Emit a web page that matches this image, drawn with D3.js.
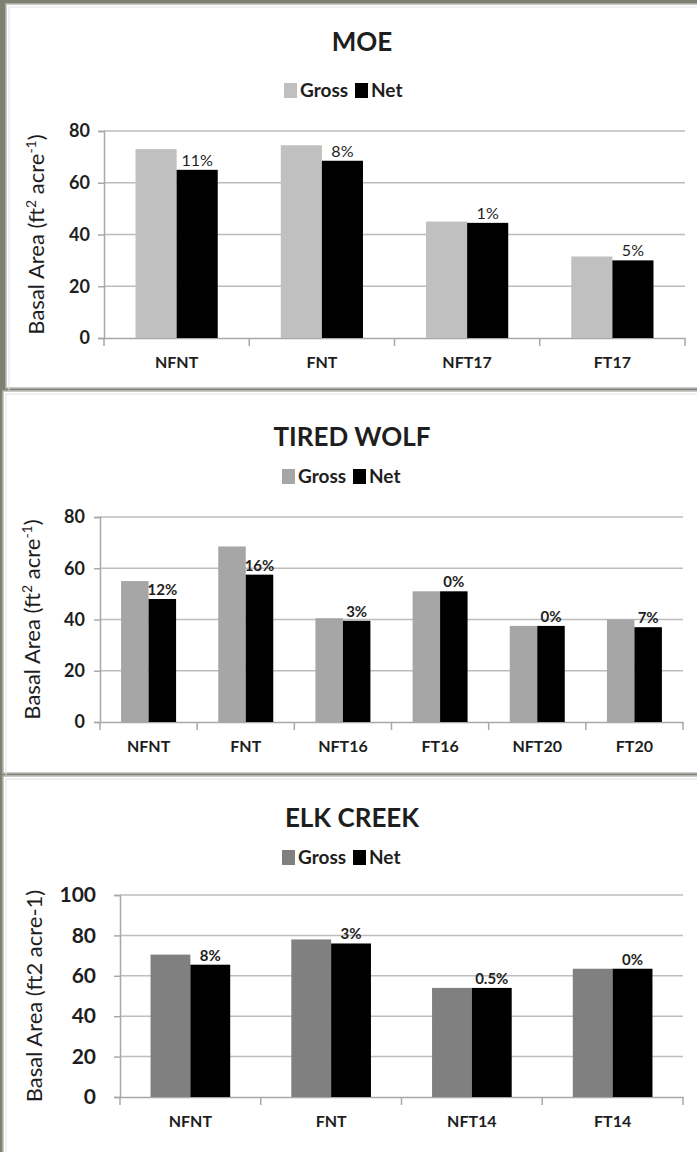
<!DOCTYPE html>
<html>
<head>
<meta charset="utf-8">
<script src="https://cdn.jsdelivr.net/npm/d3@7"></script>
<style>
  body { margin: 0; background: #7d8171; }
  svg { display: block; }
  text { font-family: Lato, "Open Sans", sans-serif; fill: #1e1e1e; }
</style>
</head>
<body>
<script>
const W = 697, H = 1152;

// MOE
const moeCategories = ["NFNT", "FNT", "NFT17", "FT17"];
const moeGross = [73, 74.5, 45, 31.5];
const moeNet = [65, 68.5, 44.5, 30];
const moeLabels = ["11%", "8%", "1%", "5%"];
const moeTicks = [0, 20, 40, 60, 80];

// Tired Wolf
const twCategories = ["NFNT", "FNT", "NFT16", "FT16", "NFT20", "FT20"];
const twGross = [55, 68.5, 40.5, 51, 37.5, 40];
const twNet = [48, 57.5, 39.5, 51, 37.5, 37];
const twLabels = ["12%", "16%", "3%", "0%", "0%", "7%"];
const twTicks = [0, 20, 40, 60, 80];

// Elk Creek
const ecCategories = ["NFNT", "FNT", "NFT14", "FT14"];
const ecGross = [70.5, 78, 54, 63.5];
const ecNet = [65.5, 76, 54, 63.5];
const ecLabels = ["8%", "3%", "0.5%", "0%"];
const ecTicks = [0, 20, 40, 60, 80, 100];

const seriesNames = ["Gross", "Net"];

let svg = d3.select("body")
    .append("svg")
    .attr("width", W)
    .attr("height", H);

svg.append("rect")
    .attr("width", W)
    .attr("height", H)
    .attr("fill", "#7d8171");

function drawPanel(o) {
    // panel background with double edge
    svg.append("rect")
        .attr("x", o.box[0]).attr("y", o.box[1])
        .attr("width", o.box[2]).attr("height", o.box[3])
        .attr("fill", "#fff")
        .attr("stroke", "#b8b8b8")
        .attr("stroke-width", 1.5);
    svg.append("rect")
        .attr("x", o.box[0] + 3).attr("y", o.box[1] + 3)
        .attr("width", o.box[2]).attr("height", o.box[3])
        .attr("fill", "none")
        .attr("stroke", "#e2e2e2")
        .attr("stroke-width", 1);

    let data = o.categories.map((c, i) => ({cat: c, vals: [o.gross[i], o.net[i]], label: o.labels[i]}));

    let x = d3.scaleBand()
        .domain(o.categories)
        .range([o.left, o.right])
        .paddingInner(0.434)
        .paddingOuter(0.217);

    let xs = d3.scaleBand()
        .domain(seriesNames)
        .range([0, x.bandwidth()]);

    let y = d3.scaleLinear()
        .domain([0, d3.max(o.ticks)])
        .range([o.bottom, o.top]);

    // grid
    svg.append("g")
        .selectAll("line")
        .data(o.ticks.slice(1))
        .enter()
        .append("line")
        .attr("x1", o.left).attr("x2", o.right)
        .attr("y1", d => y(d)).attr("y2", d => y(d))
        .attr("stroke", "#bdbdbd")
        .attr("stroke-width", 1.5);

    // y axis
    let gY = svg.append("g")
        .attr("transform", `translate(${o.left},0)`)
        .call(d3.axisLeft(y).tickValues(o.ticks).tickSize(6).tickPadding(o.tickPad));
    gY.select(".domain").attr("stroke", "#a8a8a8").attr("stroke-width", 1.5);
    gY.selectAll(".tick line").attr("stroke", "#a8a8a8").attr("stroke-width", 1.5);
    gY.selectAll(".tick text")
        .attr("font-size", o.tickSize)
        .attr("font-weight", "bold")
        .style("font-family", "Lato, sans-serif")
        .attr("fill", "#1e1e1e");

    // x axis
    let cell = (o.right - o.left) / o.categories.length;
    let gX = svg.append("g")
        .attr("transform", `translate(0,${o.bottom})`)
        .call(d3.axisBottom(x).tickSize(0).tickPadding(19));
    gX.select(".domain").attr("stroke", "#a8a8a8").attr("stroke-width", 1.5);
    gX.selectAll(".tick text")
        .attr("font-size", 16)
        .attr("font-weight", "bold")
        .style("font-family", "Lato, sans-serif")
        .attr("fill", "#1e1e1e");
    svg.append("g")
        .selectAll("line")
        .data(d3.range(o.categories.length + 1))
        .enter()
        .append("line")
        .attr("x1", i => o.left + i * cell).attr("x2", i => o.left + i * cell)
        .attr("y1", o.bottom).attr("y2", o.bottom + 8)
        .attr("stroke", "#a8a8a8")
        .attr("stroke-width", 1.5);

    // bars
    let groups = svg.append("g")
        .selectAll("g")
        .data(data)
        .enter()
        .append("g")
        .attr("transform", d => `translate(${x(d.cat)},0)`);

    groups.selectAll("rect")
        .data(d => d.vals.map((v, j) => ({s: seriesNames[j], v: v})))
        .enter()
        .append("rect")
        .attr("x", d => xs(d.s))
        .attr("y", d => y(d.v))
        .attr("width", xs.bandwidth())
        .attr("height", d => y(0) - y(d.v))
        .attr("fill", d => d.s === "Gross" ? o.grossColor : "#000");

    // percent labels over net bars
    groups.append("text")
        .attr("x", xs("Net") + xs.bandwidth() / 2)
        .attr("y", d => y(d.vals[1]) - 4)
        .attr("text-anchor", "middle")
        .attr("font-size", o.labelSize)
        .attr("font-weight", o.labelWeight)
        .text(d => d.label);

    // title
    svg.append("text")
        .attr("x", o.titleX)
        .attr("y", o.titleY)
        .attr("text-anchor", "middle")
        .attr("font-size", 26)
        .attr("font-weight", "bold")
        .text(o.title);

    // legend
    let lg = svg.append("g")
        .attr("transform", `translate(${o.legendX},${o.legendY})`);
    lg.append("rect").attr("x", 0).attr("y", -7).attr("width", 13).attr("height", 15).attr("fill", o.grossColor);
    lg.append("text").attr("x", 16).attr("y", 7).attr("font-size", 19).attr("font-weight", "bold").text("Gross");
    lg.append("rect").attr("x", 71).attr("y", -7).attr("width", 13).attr("height", 15).attr("fill", "#000");
    lg.append("text").attr("x", 87).attr("y", 7).attr("font-size", 19).attr("font-weight", "bold").text("Net");

    // y title
    let yt = svg.append("text")
        .attr("transform", `translate(${o.yTitleX},${(o.top + o.bottom) / 2}) rotate(-90)`)
        .attr("text-anchor", "middle")
        .attr("font-size", 22)
        .attr("fill", "#262626");
    if (o.superscript) {
        yt.append("tspan").text("Basal Area (ft");
        yt.append("tspan").attr("baseline-shift", "super").attr("font-size", 14).text("2");
        yt.append("tspan").text(" acre");
        yt.append("tspan").attr("baseline-shift", "super").attr("font-size", 14).text("-1");
        yt.append("tspan").text(")");
    } else {
        yt.text("Basal Area (ft2 acre-1)");
    }
}

drawPanel({
    box: [6, 4, 700, 384],
    title: "MOE", titleX: 362, titleY: 51,
    legendX: 284, legendY: 90,
    categories: moeCategories, gross: moeGross, net: moeNet, labels: moeLabels, ticks: moeTicks,
    left: 104, right: 685, top: 131, bottom: 338,
    grossColor: "#c0c0c0", tickSize: 18, tickPad: 8, labelSize: 16, labelWeight: "normal",
    yTitleX: 44, superscript: true
});

drawPanel({
    box: [3, 391, 700, 382],
    title: "TIRED WOLF", titleX: 352, titleY: 446,
    legendX: 282, legendY: 476,
    categories: twCategories, gross: twGross, net: twNet, labels: twLabels, ticks: twTicks,
    left: 100, right: 683, top: 517, bottom: 722,
    grossColor: "#a6a6a6", tickSize: 18, tickPad: 9, labelSize: 15, labelWeight: "bold",
    yTitleX: 40, superscript: true
});

drawPanel({
    box: [3, 776, 700, 382],
    title: "ELK CREEK", titleX: 352, titleY: 827,
    legendX: 282, legendY: 857,
    categories: ecCategories, gross: ecGross, net: ecNet, labels: ecLabels, ticks: ecTicks,
    left: 120, right: 683, top: 895, bottom: 1097,
    grossColor: "#808080", tickSize: 21, tickPad: 18, labelSize: 15, labelWeight: "bold",
    yTitleX: 42, superscript: false
});
</script>
</body>
</html>
